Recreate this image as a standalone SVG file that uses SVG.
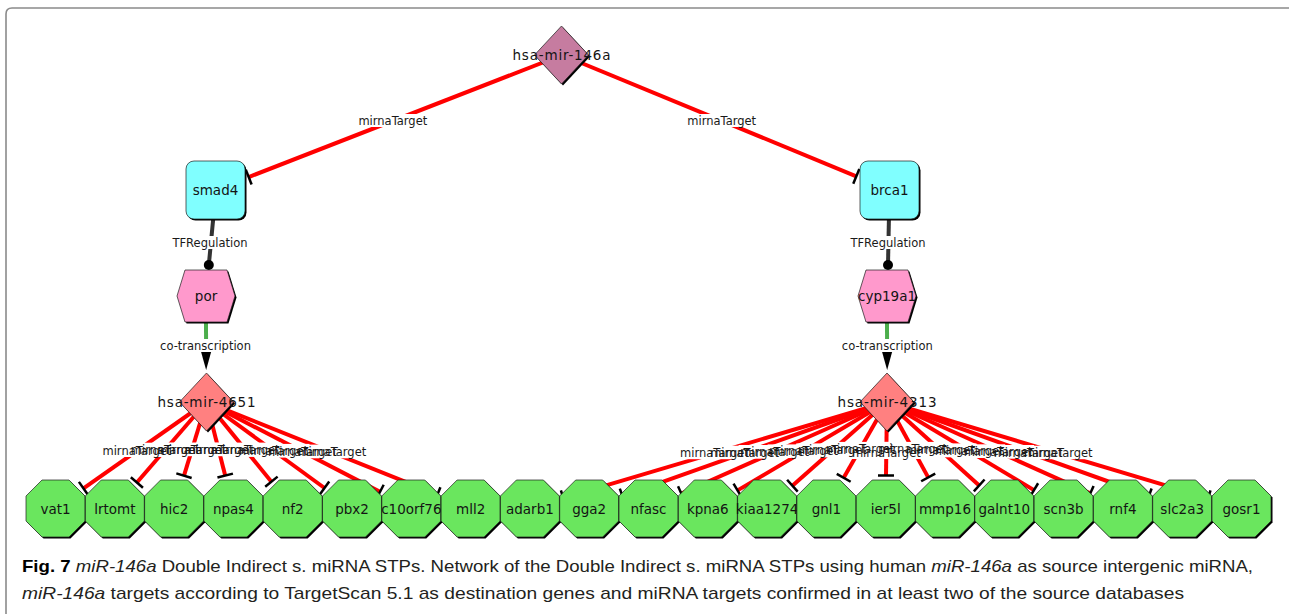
<svg xmlns="http://www.w3.org/2000/svg" xmlns:xlink="http://www.w3.org/1999/xlink" width="1289" height="614" viewBox="0 0 1289 614">
<style>
.red{stroke:#ff0000;stroke-width:4;fill:none;marker-end:url(#tbar)}
.tf{stroke:#333;stroke-width:4;fill:none;marker-end:url(#dot)}
.co{stroke:#4cae4c;stroke-width:4;fill:none;marker-end:url(#arrow)}
.sh{fill:#000}
.oct{fill:#6ae65e;stroke:#1e1e1e;stroke-width:0.7}
.tfn{fill:#80ffff;stroke:#1e1e1e;stroke-width:0.7}
.gene{fill:#ff99cc;stroke:#1e1e1e;stroke-width:0.7}
.mir{fill:#ff8080;stroke:#1e1e1e;stroke-width:0.7}
.src{fill:#c67ca0;stroke:#1e1e1e;stroke-width:0.7}
.nl{font-family:"DejaVu Sans",sans-serif;font-size:13.5px;fill:#141414;text-anchor:middle}
.el{font-family:"DejaVu Sans",sans-serif;font-size:11.5px;fill:#1a1a1a;text-anchor:middle}
.lb{fill:#fff}
.cap{font-family:"Liberation Sans",sans-serif;font-size:17px;fill:#231f20}
</style>
<defs>
<polygon id="oct" points="-13.5,-28.5 13.5,-28.5 29.5,-12.5 29.5,12.5 13.5,28.5 -13.5,28.5 -29.5,12.5 -29.5,-12.5"/>
<polygon id="dia" points="0,-29 27,0 0,29 -27,0"/>
<polygon id="hex" points="-29,0 -21,-26 21,-26 29,0 21,26 -21,26"/>
<rect id="rr" x="-29.5" y="-29" width="59" height="58" rx="8" ry="8"/>
<marker id="tbar" markerUnits="userSpaceOnUse" markerWidth="6" markerHeight="20" refX="3" refY="10" orient="auto" viewBox="0 0 6 20"><path d="M3,2 V18" stroke="#000" stroke-width="2.5"/></marker>
<marker id="dot" markerUnits="userSpaceOnUse" markerWidth="12" markerHeight="12" refX="6" refY="6" viewBox="0 0 12 12"><circle cx="6" cy="6" r="5" fill="#000"/></marker>
<marker id="arrow" markerUnits="userSpaceOnUse" markerWidth="20" markerHeight="12" refX="0" refY="6" orient="auto" viewBox="0 0 20 12"><path d="M0,1 L18,6 L0,11 Z" fill="#000"/></marker>
</defs>
<rect width="1289" height="614" fill="#fff"/>
<path d="M6,614 V14 Q6,8 12,8 H1289" fill="none" stroke="#8a8a8a" stroke-width="1.6"/>

<g id="connectors">
<line class="red" x1="562" y1="55" x2="248.7" y2="177.05"/>
<line class="red" x1="562" y1="55" x2="856.3" y2="176.3"/>
<line class="tf" x1="215" y1="200" x2="208.8" y2="265"/>
<line class="tf" x1="889.3" y1="200" x2="888" y2="265"/>
<line class="co" x1="206" y1="322" x2="206.1" y2="352"/>
<line class="co" x1="887" y1="322" x2="887.1" y2="352"/>
<line class="red" x1="206.5" y1="402" x2="83.5" y2="488.4"/>
<line class="red" x1="206.5" y1="402" x2="136.9" y2="482.5"/>
<line class="red" x1="206.5" y1="402" x2="184.0" y2="475.7"/>
<line class="red" x1="206.5" y1="402" x2="225.2" y2="475.6"/>
<line class="red" x1="206.5" y1="402" x2="271.4" y2="481.7"/>
<line class="red" x1="206.5" y1="402" x2="324.5" y2="488.0"/>
<line class="red" x1="206.5" y1="402" x2="380.0" y2="491.9"/>
<line class="red" x1="206.5" y1="402" x2="437.4" y2="494.7"/>
<line class="red" x1="887" y1="402" x2="563.2" y2="498.1"/>
<line class="red" x1="887" y1="402" x2="622.5" y2="496.2"/>
<line class="red" x1="887" y1="402" x2="681.3" y2="493.5"/>
<line class="red" x1="887" y1="402" x2="737.6" y2="490.4"/>
<line class="red" x1="887" y1="402" x2="792.4" y2="485.7"/>
<line class="red" x1="887" y1="402" x2="843.7" y2="477.8"/>
<line class="red" x1="887" y1="402" x2="886.0" y2="475.5"/>
<line class="red" x1="887" y1="402" x2="928.2" y2="477.4"/>
<line class="red" x1="887" y1="402" x2="979.2" y2="485.4"/>
<line class="red" x1="887" y1="402" x2="1034.0" y2="490.1"/>
<line class="red" x1="887" y1="402" x2="1090.3" y2="493.4"/>
<line class="red" x1="887" y1="402" x2="1148.9" y2="496.0"/>
<line class="red" x1="887" y1="402" x2="1208.2" y2="498.1"/>
</g>

<g id="edge-labels">
<g class="lb">
<rect x="356.8" y="114" width="72" height="13"/>
<rect x="685.7" y="114" width="72" height="13"/>
<rect x="170" y="236" width="80" height="13"/>
<rect x="848" y="236" width="80" height="13"/>
<rect x="157" y="339" width="98" height="13"/>
<rect x="838" y="339" width="98" height="13"/>
<rect x="100.9" y="444" width="72" height="13"/>
<rect x="129.2" y="442.7" width="72" height="13"/>
<rect x="155.9" y="442.7" width="72" height="13"/>
<rect x="182.8" y="443.2" width="72" height="13"/>
<rect x="209.2" y="442.6" width="72" height="13"/>
<rect x="237.5" y="443.9" width="72" height="13"/>
<rect x="266.4" y="444.6" width="72" height="13"/>
<rect x="295.8" y="445.3" width="72" height="13"/>
<rect x="678.5" y="446.2" width="72" height="13"/>
<rect x="708.6" y="445.7" width="72" height="13"/>
<rect x="738.6" y="445" width="72" height="13"/>
<rect x="767.6" y="444.4" width="72" height="13"/>
<rect x="796.3" y="443.4" width="72" height="13"/>
<rect x="824.2" y="441.9" width="72" height="13"/>
<rect x="850.3" y="446" width="72" height="13"/>
<rect x="876.6" y="441.9" width="72" height="13"/>
<rect x="904.5" y="443.4" width="72" height="13"/>
<rect x="933.2" y="444.3" width="72" height="13"/>
<rect x="962.1" y="445" width="72" height="13"/>
<rect x="992.1" y="445.7" width="72" height="13"/>
<rect x="1022.2" y="446.2" width="72" height="13"/>
</g>
<text class="el" x="392.8" y="125">mirnaTarget</text>
<text class="el" x="721.7" y="125">mirnaTarget</text>
<text class="el" x="210" y="247">TFRegulation</text>
<text class="el" x="888" y="247">TFRegulation</text>
<text class="el" x="205.5" y="350">co-transcription</text>
<text class="el" x="887.3" y="350">co-transcription</text>
<text class="el" x="136.9" y="455">mirnaTarget</text>
<text class="el" x="165.2" y="453.7">mirnaTarget</text>
<text class="el" x="191.9" y="453.7">mirnaTarget</text>
<text class="el" x="218.8" y="454.2">mirnaTarget</text>
<text class="el" x="245.2" y="453.6">mirnaTarget</text>
<text class="el" x="273.5" y="454.9">mirnaTarget</text>
<text class="el" x="302.4" y="455.6">mirnaTarget</text>
<text class="el" x="331.8" y="456.3">mirnaTarget</text>
<text class="el" x="714.5" y="457.2">mirnaTarget</text>
<text class="el" x="744.6" y="456.7">mirnaTarget</text>
<text class="el" x="774.6" y="456">mirnaTarget</text>
<text class="el" x="803.6" y="455.4">mirnaTarget</text>
<text class="el" x="832.3" y="454.4">mirnaTarget</text>
<text class="el" x="860.2" y="452.9">mirnaTarget</text>
<text class="el" x="886.3" y="457">mirnaTarget</text>
<text class="el" x="912.6" y="452.9">mirnaTarget</text>
<text class="el" x="940.5" y="454.4">mirnaTarget</text>
<text class="el" x="969.2" y="455.3">mirnaTarget</text>
<text class="el" x="998.1" y="456">mirnaTarget</text>
<text class="el" x="1028.1" y="456.7">mirnaTarget</text>
<text class="el" x="1058.2" y="457.2">mirnaTarget</text>
</g>

<g id="n-hsa-mir-146a" transform="translate(561.5,55)"><use xlink:href="#dia" class="sh" x="1.5" y="1.5"/><use xlink:href="#dia" class="src"/><text class="nl" y="5" textLength="98" lengthAdjust="spacing">hsa-mir-146a</text></g>
<g id="n-smad4" transform="translate(215.5,190)"><use xlink:href="#rr" class="sh" x="1.5" y="1.5"/><use xlink:href="#rr" class="tfn"/><text class="nl" y="5">smad4</text></g>
<g id="n-brca1" transform="translate(889.5,190)"><use xlink:href="#rr" class="sh" x="1.5" y="1.5"/><use xlink:href="#rr" class="tfn"/><text class="nl" y="5">brca1</text></g>
<g id="n-por" transform="translate(206,296)"><use xlink:href="#hex" class="sh" x="1.5" y="1.5"/><use xlink:href="#hex" class="gene"/><text class="nl" y="5">por</text></g>
<g id="n-cyp19a1" transform="translate(887,296)"><use xlink:href="#hex" class="sh" x="1.5" y="1.5"/><use xlink:href="#hex" class="gene"/><text class="nl" y="5">cyp19a1</text></g>
<g id="n-hsa-mir-4651" transform="translate(206.5,402)"><use xlink:href="#dia" class="sh" x="1.5" y="1.5"/><use xlink:href="#dia" class="mir"/><text class="nl" y="5" textLength="98" lengthAdjust="spacing">hsa-mir-4651</text></g>
<g id="n-hsa-mir-4313" transform="translate(887,402)"><use xlink:href="#dia" class="sh" x="1.5" y="1.5"/><use xlink:href="#dia" class="mir"/><text class="nl" y="5" textLength="99" lengthAdjust="spacing">hsa-mir-4313</text></g>

<g id="n-vat1" transform="translate(55.5,508.5)"><use xlink:href="#oct" class="sh" x="1.5" y="1.5"/><use xlink:href="#oct" class="oct"/><text class="nl" y="5.5">vat1</text></g>
<g id="n-lrtomt" transform="translate(114.8,508.5)"><use xlink:href="#oct" class="sh" x="1.5" y="1.5"/><use xlink:href="#oct" class="oct"/><text class="nl" y="5.5">lrtomt</text></g>
<g id="n-hic2" transform="translate(174.1,508.5)"><use xlink:href="#oct" class="sh" x="1.5" y="1.5"/><use xlink:href="#oct" class="oct"/><text class="nl" y="5.5">hic2</text></g>
<g id="n-npas4" transform="translate(233.4,508.5)"><use xlink:href="#oct" class="sh" x="1.5" y="1.5"/><use xlink:href="#oct" class="oct"/><text class="nl" y="5.5">npas4</text></g>
<g id="n-nf2" transform="translate(292.7,508.5)"><use xlink:href="#oct" class="sh" x="1.5" y="1.5"/><use xlink:href="#oct" class="oct"/><text class="nl" y="5.5">nf2</text></g>
<g id="n-pbx2" transform="translate(352,508.5)"><use xlink:href="#oct" class="sh" x="1.5" y="1.5"/><use xlink:href="#oct" class="oct"/><text class="nl" y="5.5">pbx2</text></g>
<g id="n-c10orf76" transform="translate(411.3,508.5)"><use xlink:href="#oct" class="sh" x="1.5" y="1.5"/><use xlink:href="#oct" class="oct"/><text class="nl" y="5.5">c10orf76</text></g>
<g id="n-mll2" transform="translate(470.6,508.5)"><use xlink:href="#oct" class="sh" x="1.5" y="1.5"/><use xlink:href="#oct" class="oct"/><text class="nl" y="5.5">mll2</text></g>
<g id="n-adarb1" transform="translate(529.9,508.5)"><use xlink:href="#oct" class="sh" x="1.5" y="1.5"/><use xlink:href="#oct" class="oct"/><text class="nl" y="5.5">adarb1</text></g>
<g id="n-gga2" transform="translate(589.2,508.5)"><use xlink:href="#oct" class="sh" x="1.5" y="1.5"/><use xlink:href="#oct" class="oct"/><text class="nl" y="5.5">gga2</text></g>
<g id="n-nfasc" transform="translate(648.5,508.5)"><use xlink:href="#oct" class="sh" x="1.5" y="1.5"/><use xlink:href="#oct" class="oct"/><text class="nl" y="5.5">nfasc</text></g>
<g id="n-kpna6" transform="translate(707.8,508.5)"><use xlink:href="#oct" class="sh" x="1.5" y="1.5"/><use xlink:href="#oct" class="oct"/><text class="nl" y="5.5">kpna6</text></g>
<g id="n-kiaa1274" transform="translate(767.1,508.5)"><use xlink:href="#oct" class="sh" x="1.5" y="1.5"/><use xlink:href="#oct" class="oct"/><text class="nl" y="5.5">kiaa1274</text></g>
<g id="n-gnl1" transform="translate(826.4,508.5)"><use xlink:href="#oct" class="sh" x="1.5" y="1.5"/><use xlink:href="#oct" class="oct"/><text class="nl" y="5.5">gnl1</text></g>
<g id="n-ier5l" transform="translate(885.7,508.5)"><use xlink:href="#oct" class="sh" x="1.5" y="1.5"/><use xlink:href="#oct" class="oct"/><text class="nl" y="5.5">ier5l</text></g>
<g id="n-mmp16" transform="translate(945,508.5)"><use xlink:href="#oct" class="sh" x="1.5" y="1.5"/><use xlink:href="#oct" class="oct"/><text class="nl" y="5.5">mmp16</text></g>
<g id="n-galnt10" transform="translate(1004.3,508.5)"><use xlink:href="#oct" class="sh" x="1.5" y="1.5"/><use xlink:href="#oct" class="oct"/><text class="nl" y="5.5">galnt10</text></g>
<g id="n-scn3b" transform="translate(1063.6,508.5)"><use xlink:href="#oct" class="sh" x="1.5" y="1.5"/><use xlink:href="#oct" class="oct"/><text class="nl" y="5.5">scn3b</text></g>
<g id="n-rnf4" transform="translate(1122.9,508.5)"><use xlink:href="#oct" class="sh" x="1.5" y="1.5"/><use xlink:href="#oct" class="oct"/><text class="nl" y="5.5">rnf4</text></g>
<g id="n-slc2a3" transform="translate(1182.2,508.5)"><use xlink:href="#oct" class="sh" x="1.5" y="1.5"/><use xlink:href="#oct" class="oct"/><text class="nl" y="5.5">slc2a3</text></g>
<g id="n-gosr1" transform="translate(1241.5,508.5)"><use xlink:href="#oct" class="sh" x="1.5" y="1.5"/><use xlink:href="#oct" class="oct"/><text class="nl" y="5.5">gosr1</text></g>

<g id="caption">
<text class="cap" x="22" y="572" textLength="1231" lengthAdjust="spacingAndGlyphs"><tspan font-weight="bold" fill="#000">Fig. 7</tspan> <tspan font-style="italic">miR-146a</tspan> Double Indirect s. miRNA STPs. Network of the Double Indirect s. miRNA STPs using human <tspan font-style="italic">miR-146a</tspan> as source intergenic miRNA,</text>
<text class="cap" x="22" y="599" textLength="1162" lengthAdjust="spacingAndGlyphs"><tspan font-style="italic">miR-146a</tspan> targets according to TargetScan 5.1 as destination genes and miRNA targets confirmed in at least two of the source databases</text>
</g>
</svg>
